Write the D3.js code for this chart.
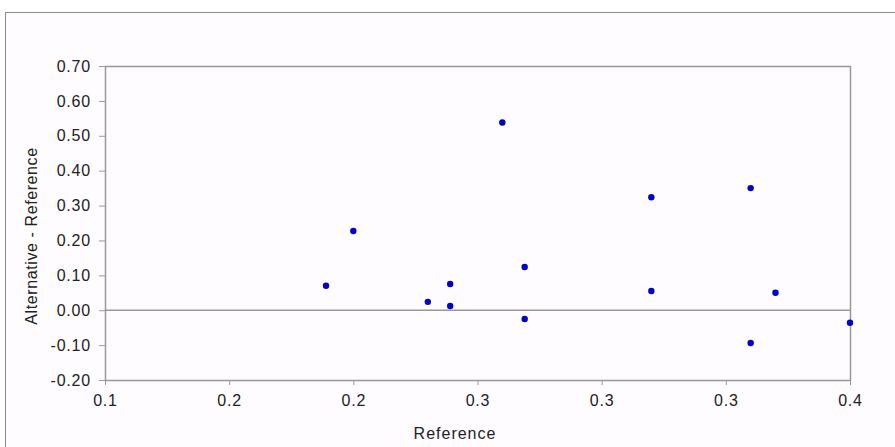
<!DOCTYPE html>
<html>
<head>
<meta charset="utf-8">
<script src="https://cdn.jsdelivr.net/npm/d3@7"></script>
<style>
  body { margin: 0; background: #fff; }
  text { font-family: "Liberation Sans", Arial, sans-serif; fill: #222; }
</style>
</head>
<body>
<div id="chart"></div>
<script>
// data
var refValues = [0.189, 0.200, 0.230, 0.239, 0.239, 0.260, 0.269, 0.269, 0.320, 0.320, 0.360, 0.360, 0.370, 0.400];
var diffValues = [0.070, 0.227, 0.024, 0.075, 0.012, 0.538, 0.124, -0.025, 0.324, 0.055, 0.350, -0.094, 0.050, -0.036];
var xTicks = [0.1, 0.15, 0.2, 0.25, 0.3, 0.35, 0.4];
var xTickLabels = ["0.1", "0.2", "0.2", "0.3", "0.3", "0.3", "0.4"];
var yTicks = [-0.2, -0.1, 0, 0.1, 0.2, 0.3, 0.4, 0.5, 0.6, 0.7];

var W = 895, H = 447;
var margin = {top: 66, right: 45, bottom: 67, left: 105},
    width = W - margin.left - margin.right,
    height = H - margin.top - margin.bottom;

var svg = d3.select("#chart")
  .append("svg")
    .attr("width", W)
    .attr("height", H);

// outer frame
svg.append("rect")
  .attr("x", 5.5).attr("y", 12.5)
  .attr("width", W).attr("height", H)
  .attr("fill", "#fefcfe")
  .attr("stroke", "#8a8a8a");

var g = svg.append("g")
  .attr("transform", "translate(" + margin.left + "," + margin.top + ")");

var x = d3.scaleLinear().domain([0.1, 0.4]).range([0, width]);
var y = d3.scaleLinear().domain([-0.2, 0.7]).range([height, 0]);

// X axis
var xAxis = g.append("g")
  .attr("transform", "translate(0," + height + ")")
  .call(d3.axisBottom(x).tickValues(xTicks).tickSize(5).tickPadding(10)
    .tickFormat(function(d, i) { return xTickLabels[i]; }));

// Y axis (plain hyphen for negatives)
var yAxis = g.append("g")
  .call(d3.axisLeft(y).tickValues(yTicks).tickSize(6).tickPadding(8)
    .tickFormat(function(d) { return d.toFixed(2).replace("\u2212", "-"); }));

[xAxis, yAxis].forEach(function(a) {
  a.select(".domain").remove();
  a.selectAll("line").attr("stroke", "#999");
  a.selectAll("text")
    .style("font-size", "16px")
    .style("letter-spacing", "0.8px")
    .attr("fill", "#222");
});

// plot frame
g.append("rect")
  .attr("x", 0.5).attr("y", 0.5)
  .attr("width", width).attr("height", height)
  .attr("fill", "none")
  .attr("stroke", "#999")
  .attr("stroke-width", 1.5);

// zero line
g.append("line")
  .attr("x1", 0).attr("x2", width)
  .attr("y1", y(0)).attr("y2", y(0))
  .attr("stroke", "#999")
  .attr("stroke-width", 1.5);

// points
g.selectAll("circle.pt")
  .data(refValues)
  .enter()
  .append("circle")
    .attr("class", "pt")
    .attr("cx", function(d) { return x(d); })
    .attr("cy", function(d, i) { return y(diffValues[i]); })
    .attr("r", 3.2)
    .attr("fill", "#0000c8");

// axis labels
svg.append("text")
  .attr("x", 455)
  .attr("y", 439)
  .attr("text-anchor", "middle")
  .style("font-size", "16px")
  .style("letter-spacing", "1px")
  .text("Reference");

svg.append("text")
  .attr("transform", "translate(37,236)rotate(-90)")
  .attr("text-anchor", "middle")
  .style("font-size", "16px")
  .style("letter-spacing", "0.6px")
  .text("Alternative - Reference");
</script>
</body>
</html>
